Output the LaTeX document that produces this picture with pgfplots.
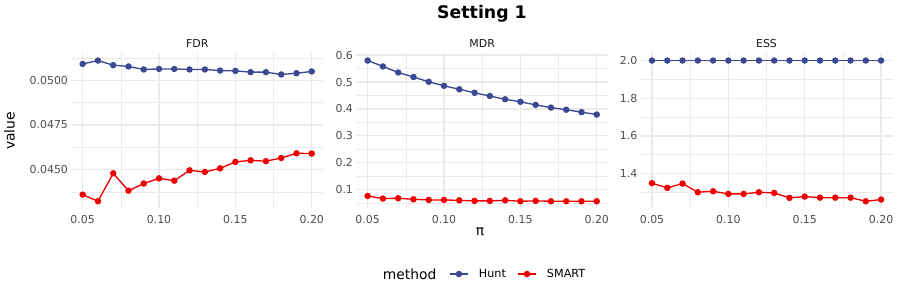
\documentclass[border=0pt]{standalone}
\usepackage{fontspec}
\setmainfont{DejaVu Sans}
\usepackage{pgfplots}
\usepackage{pgfplotstable}
\pgfplotsset{compat=1.18}
\definecolor{hunt}{HTML}{3B4992}
\definecolor{smart}{HTML}{EE0000}
\definecolor{gridgrey}{HTML}{EBEBEB}
\definecolor{tickgrey}{HTML}{4D4D4D}
\definecolor{stripgrey}{HTML}{1A1A1A}
\pgfplotstableread{
pi   fdrH    fdrS    mdrH   mdrS   essH essS
0.05 0.05091 0.04360 0.580  0.0764 2.0  1.349
0.06 0.05110 0.04323 0.558  0.0665 2.0  1.324
0.07 0.05084 0.04479 0.5355 0.0677 2.0  1.347
0.08 0.05077 0.04382 0.5186 0.0640 2.0  1.301
0.09 0.05060 0.04422 0.501  0.0615 2.0  1.306
0.10 0.05063 0.04451 0.486  0.0615 2.0  1.292
0.11 0.05063 0.04438 0.473  0.0600 2.0  1.292
0.12 0.05060 0.04496 0.460  0.0580 2.0  1.301
0.13 0.05060 0.04487 0.448  0.0580 2.0  1.297
0.14 0.05054 0.04507 0.436  0.0600 2.0  1.271
0.15 0.05052 0.04543 0.4265 0.0566 2.0  1.278
0.16 0.05045 0.04552 0.415  0.0580 2.0  1.272
0.17 0.05045 0.04547 0.405  0.0566 2.0  1.272
0.18 0.05032 0.04565 0.397  0.0566 2.0  1.272
0.19 0.05039 0.04591 0.388  0.0566 2.0  1.253
0.20 0.05049 0.04590 0.379  0.0566 2.0  1.262
}\datatable
\pgfplotsset{
  every axis title/.style={at={(0.5,1)}, anchor=base, yshift=4.6pt, inner sep=0pt, font=\fontsize{8.2}{9.8}\selectfont, text=stripgrey},
  facet/.style={
    scale only axis, width=189pt, height=116.1pt,
    anchor=south west,
    xmin=0.0425, xmax=0.2075,
    xtick={0.05,0.10,0.15,0.20},
    minor xtick={0.075,0.125,0.175},
    grid=both,
    major grid style={color=gridgrey, line width=1.0pt},
    minor grid style={color=gridgrey, line width=0.5pt},
    axis line style={draw=none},
    tick style={draw=none},
    major tick length=0pt, minor tick length=0pt,
    scaled ticks=false,
    /pgf/number format/assume math mode=true,
    tick label style={font=\fontsize{8.2}{9.8}\selectfont, text=tickgrey, inner sep=0pt},
    xticklabel style={/pgf/number format/.cd, fixed, fixed zerofill, precision=2, /tikz/.cd, yshift=-5pt},
    yticklabel style={xshift=-2.25pt},
    every axis plot/.append style={line width=1.0pt, mark=*, mark size=1.9pt, mark options={solid}},
  }
}
\begin{document}
\begin{tikzpicture}
\useasboundingbox (0,0) rectangle (675pt,225pt);
% FDR
\begin{axis}[facet, at={(53.4pt,68.78pt)}, title={FDR},
  ymin=0.042836, ymax=0.051494,
  ytick={0.045,0.0475,0.05},
  minor ytick={0.04375,0.04625,0.04875,0.05125},
  yticklabel style={/pgf/number format/.cd, fixed, fixed zerofill, precision=4},
  legend style={at={(1.498,-0.4245)}, anchor=west, draw=none, fill=none, inner sep=0pt,
    font=\fontsize{8.4}{10}\selectfont,
    nodes={inner sep=0pt},
    legend columns=-1,
    /tikz/every odd column/.append style={column sep=7.5pt},
    /tikz/every even column/.append style={column sep=8.25pt}},
  legend image code/.code={\draw[mark repeat=2, mark phase=2] plot coordinates {(0pt,0pt) (7pt,0pt) (14pt,0pt)};},
]
\addplot[color=hunt] table[x=pi, y=fdrH] {\datatable};
\addlegendentry{Hunt}
\addplot[color=smart] table[x=pi, y=fdrS] {\datatable};
\addlegendentry{SMART}
\end{axis}
% MDR
\begin{axis}[facet, at={(267.15pt,68.78pt)}, title={MDR},
  ymin=0.03043, ymax=0.60617,
  ytick={0.1,0.2,0.3,0.4,0.5,0.6},
  minor ytick={0.05,0.15,0.25,0.35,0.45,0.55},
  yticklabel style={/pgf/number format/.cd, fixed, fixed zerofill, precision=1},
]
\addplot[color=hunt] table[x=pi, y=mdrH] {\datatable};
\addplot[color=smart] table[x=pi, y=mdrS] {\datatable};
\end{axis}
% ESS
\begin{axis}[facet, at={(480.4pt,68.78pt)}, title={ESS},
  ymin=1.21565, ymax=2.03735,
  ytick={1.4,1.6,1.8,2.0},
  minor ytick={1.3,1.5,1.7,1.9},
  yticklabel style={/pgf/number format/.cd, fixed, fixed zerofill, precision=1},
]
\addplot[color=hunt] table[x=pi, y=essH] {\datatable};
\addplot[color=smart] table[x=pi, y=essS] {\datatable};
\end{axis}
% titles and labels
\node[anchor=base, inner sep=0pt, font=\bfseries\fontsize{13}{15}\selectfont] at (361.5pt,211.3pt) {Setting 1};
\node[anchor=base, inner sep=0pt, rotate=90, font=\fontsize{10.4}{12}\selectfont] at (11pt,126.8pt) {value};
\node[anchor=base, inner sep=0pt, font=\fontsize{10.4}{12}\selectfont] at (360pt,48.2pt) {π};
\node[anchor=base west, inner sep=0pt, font=\fontsize{10.4}{12}\selectfont] at (287pt,15.5pt) {method};
\end{tikzpicture}
\end{document}
